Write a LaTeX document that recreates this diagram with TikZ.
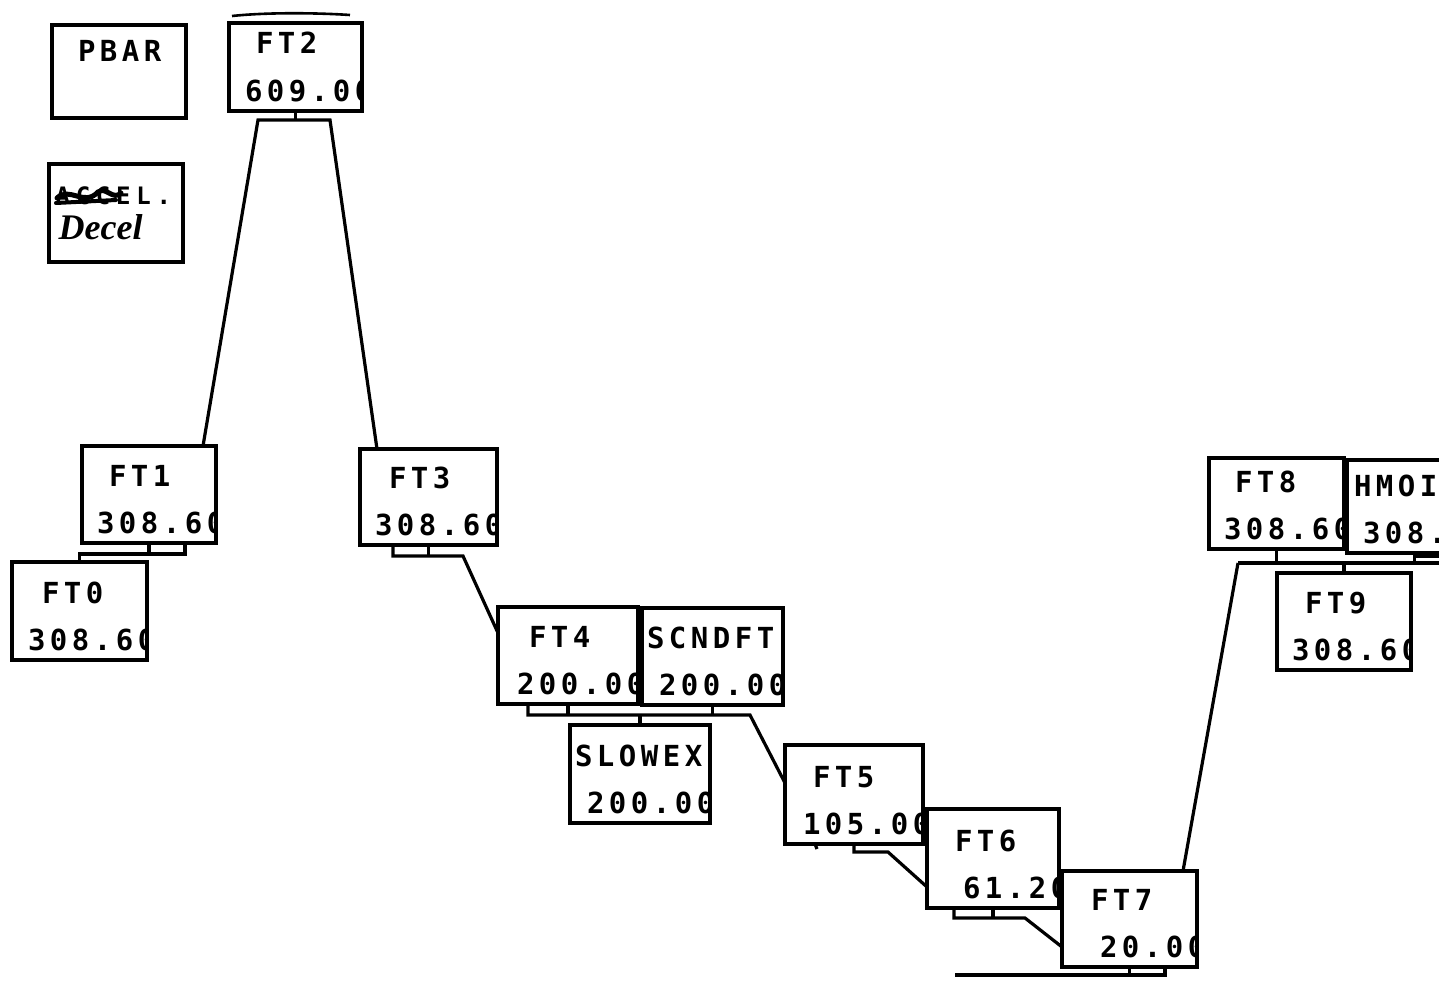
\documentclass[tikz,border=0pt]{standalone}
\usepackage{fontspec}
\newfontfamily\plotfont[LetterSpace=15.5]{DejaVu Sans Mono Bold}
\newfontfamily\handfont{Liberation Serif}
\usepackage{tikz}
\usetikzlibrary{calc}

\begin{document}
\begin{tikzpicture}[
    x=1pt, y=-1pt,
    line width=3.2pt,
    ptxt/.style={font=\plotfont\fontsize{29}{29}\selectfont, inner sep=0pt, anchor=base west,
        minimum width=0pt, minimum height=0pt},
    % #1 label shift, #2 label, #3 value shift, #4 value
    stn/.style n args={4}{draw, rectangle, inner sep=0pt, outer sep=0pt, anchor=north west,
        minimum width=135pt, minimum height=97pt,
        path picture={
            \node[ptxt] at ([xshift=#1pt, yshift=57pt]path picture bounding box.south west) {#2};
            \node[ptxt] at ([xshift=#3pt, yshift=10pt]path picture bounding box.south west) {#4};
        }},
]
\useasboundingbox (0,0) rectangle (1439,982);

% legend boxes
\node[stn={26}{PBAR}{0}{}, minimum width=134pt, minimum height=93pt] (pbar) at (52,25) {};
\node[stn={0}{}{0}{}, minimum width=134pt, minimum height=98pt] (decel) at (49,164) {};
\node[ptxt, font=\plotfont\fontsize{24}{24}\selectfont\addfontfeature{LetterSpace=24}] (accel) at (54,204) {ACCEL.};
\draw[line width=5pt, line cap=round] (57,198) .. controls (70,186) and (84,207) .. (98,192) .. controls (106,186) and (113,201) .. (121,193);
\draw[line width=4pt, line cap=round] (56,203) -- (116,200);
\node[font=\handfont\bfseries\itshape\fontsize{36}{36}\selectfont, inner sep=0pt, anchor=base west] (decelt) at (57,239) {Decel};

% stations
\node[stn={27}{FT2}{16}{609.00}, minimum width=133pt, minimum height=88pt] (ft2) at (229,23) {};
\node[stn={27}{FT1}{15}{308.60}, minimum width=134pt] (ft1) at (82,446) {};
\node[stn={30}{FT0}{16}{308.60}, minimum height=98pt] (ft0) at (12,562) {};
\node[stn={29}{FT3}{15}{308.60}, minimum width=137pt, minimum height=96pt] (ft3) at (360,449) {};
\node[stn={31}{FT4}{19}{200.00}, minimum width=140pt] (ft4) at (498,607) {};
\node[stn={5}{SCNDFT}{17}{200.00}, minimum width=141pt] (scndft) at (642,608) {};
\node[stn={5}{SLOWEX}{17}{200.00}, minimum width=140pt, minimum height=98pt] (slowex) at (570,725) {};
\node[stn={28}{FT5}{18}{105.00}, minimum width=138pt, minimum height=99pt] (ft5) at (785,745) {};
\node[stn={28}{FT6}{36}{61.20}, minimum width=132pt, minimum height=99pt] (ft6) at (927,809) {};
\node[stn={29}{FT7}{38}{20.00}, minimum height=96pt] (ft7) at (1062,871) {};
\node[stn={26}{FT8}{15}{308.60}, minimum height=91pt] (ft8) at (1209,458) {};
\node[stn={7}{HMOI}{16}{308.60}, minimum height=93pt] (hmoi) at (1347,460) {};
\node[stn={28}{FT9}{15}{308.60}, minimum width=134pt] (ft9) at (1277,573) {};

% pen mark over FT2
\draw[line width=2.6pt] (232,16) .. controls (270,12) and (320,13) .. (350,15);

% bus points
\coordinate (b2l) at (258,120);
\coordinate (b2r) at (330,120);
\coordinate (b1) at (185,554);
\coordinate (b3) at (463,556);
\coordinate (b4) at (750,715);
\coordinate (b5) at (888,852);
\coordinate (b6) at (1025,918);
\coordinate (b7) at (955,975);
\coordinate (b8) at (1238,563);
\coordinate (b8e) at (1445,563);

% FT2 fan
\draw (ft2.south) -- (ft2.south |- b2l);
\draw ($(ft1.north east)+(-13,0)$) -- (b2l) -- (b2r) -- ($(ft3.north west)+(17,0)$);

% FT1 / FT0
\draw (ft1.south) -- (ft1.south |- b1);
\draw (b1 |- ft1.south) -- (b1) -- (ft0.north |- b1) -- (ft0.north);

% FT3 -> FT4
\draw (ft3.south) -- (ft3.south |- b3);
\draw ($(ft3.south west)+(33,0)$) -- ++(0,11) -- (b3) -- ($(ft4.north west)+(0,26)$);

% FT4 / SCNDFT / SLOWEX -> FT5
\draw (ft4.south) -- (ft4.south |- b4);
\draw ($(ft4.south west)+(30,0)$) -- ++(0,11) -- (b4) -- ($(ft5.north west)+(0,38)$);
\draw (scndft.south) -- (scndft.south |- b4);
\draw (slowex.north) -- (slowex.north |- b4);

% FT5 -> FT6
\draw (ft5.south) -- (ft5.south |- b5) -- (b5) -- ($(ft6.north west)+(0,78)$);
\draw ($(ft5.south west)+(30,0)$) -- ++(2,5);

% FT6 -> FT7
\draw (ft6.south) -- (ft6.south |- b6);
\draw ($(ft6.south west)+(27,0)$) -- ++(0,10) -- (b6) -- ($(ft7.north west)+(0,76)$);

% FT7 -> FT8
\draw (ft7.south) -- (ft7.south |- b7);
\draw (b7) -- ($(ft7.south east)+(-32,8)$) -- ($(ft7.south east)+(-32,0)$);
\draw ($(ft7.north east)+(-14,0)$) -- (b8);

% FT8 / FT9 / HMOI
\draw (b8) -- (b8e);
\draw (ft8.south) -- (ft8.south |- b8);
\draw (ft9.north) -- (ft9.north |- b8);
\draw (hmoi.south) -- (hmoi.south |- b8);
\draw ($(hmoi.south)+(0,3)$) -- ++(40,0);

\end{tikzpicture}
\end{document}
